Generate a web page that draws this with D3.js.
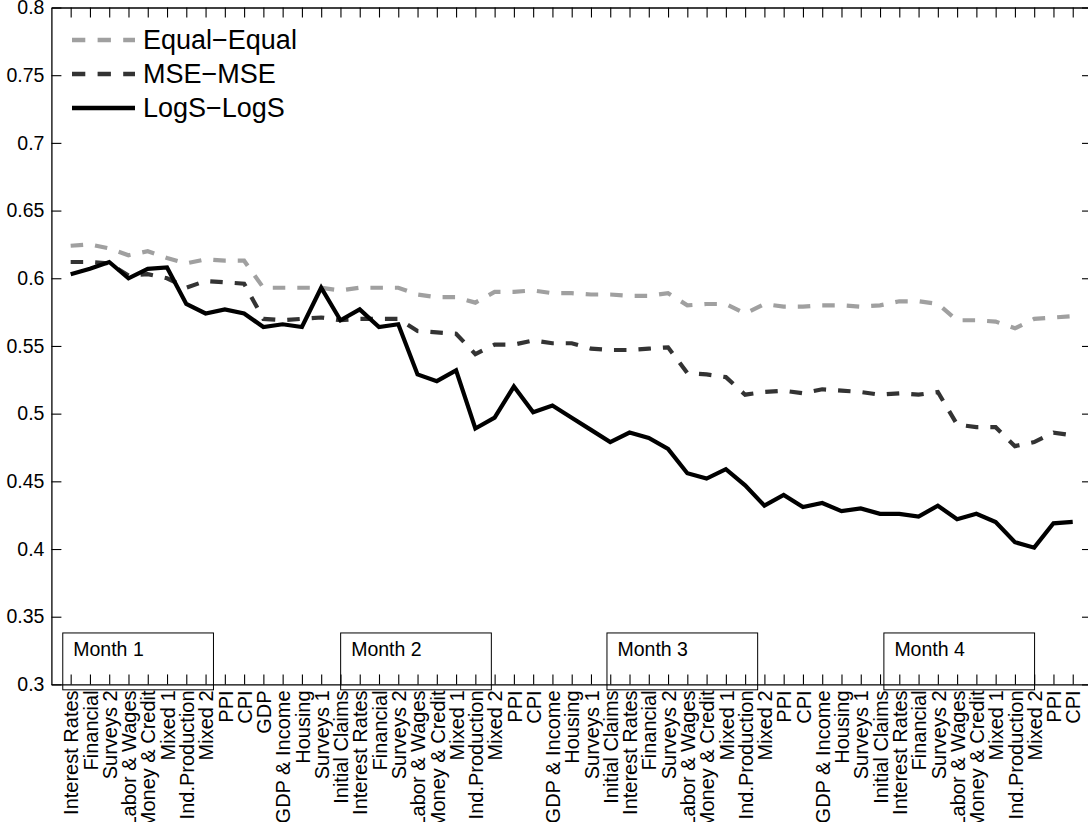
<!DOCTYPE html>
<html>
<head>
<meta charset="utf-8">
<script src="https://cdn.jsdelivr.net/npm/d3@7"></script>
<style>
  html, body { margin: 0; padding: 0; background: #fff; }
  svg { display: block; font-family: "Liberation Sans", Arial, Helvetica, sans-serif; }
</style>
</head>
<body>
<svg id="chart" width="1088" height="822"></svg>
<script>
// Forecast release sequence over four months
const categories = [
  "Interest Rates","Financial","Surveys 2","Labor & Wages","Money & Credit","Mixed 1","Ind.Production","Mixed 2",
  "PPI","CPI","GDP","GDP & Income","Housing","Surveys 1","Initial Claims",
  "Interest Rates","Financial","Surveys 2","Labor & Wages","Money & Credit","Mixed 1","Ind.Production","Mixed 2",
  "PPI","CPI","GDP & Income","Housing","Surveys 1","Initial Claims",
  "Interest Rates","Financial","Surveys 2","Labor & Wages","Money & Credit","Mixed 1","Ind.Production","Mixed 2",
  "PPI","CPI","GDP & Income","Housing","Surveys 1","Initial Claims",
  "Interest Rates","Financial","Surveys 2","Labor & Wages","Money & Credit","Mixed 1","Ind.Production","Mixed 2",
  "PPI","CPI"
];

const equalEqual = [
  0.624,0.625,0.622,0.617,0.620,0.615,0.611,0.614,0.613,0.613,
  0.593,0.593,0.593,0.593,0.591,0.593,0.593,0.593,0.588,0.586,
  0.586,0.582,0.590,0.590,0.591,0.589,0.589,0.588,0.588,0.587,
  0.587,0.589,0.580,0.581,0.581,0.574,0.581,0.579,0.579,0.580,
  0.580,0.579,0.580,0.583,0.583,0.581,0.569,0.569,0.568,0.563,
  0.570,0.571,0.572
];

const mseMse = [
  0.612,0.612,0.611,0.602,0.603,0.600,0.593,0.598,0.597,0.596,
  0.570,0.569,0.570,0.571,0.569,0.570,0.570,0.570,0.561,0.560,
  0.559,0.544,0.551,0.551,0.554,0.552,0.552,0.548,0.547,0.547,
  0.548,0.549,0.530,0.529,0.527,0.514,0.516,0.517,0.515,0.518,
  0.517,0.516,0.514,0.515,0.514,0.516,0.492,0.490,0.490,0.476,
  0.479,0.486,0.484
];

const logsLogs = [
  0.603,0.607,0.612,0.600,0.607,0.608,0.581,0.574,0.577,0.574,
  0.564,0.566,0.564,0.593,0.569,0.577,0.564,0.566,0.529,0.524,
  0.532,0.489,0.497,0.520,0.501,0.506,0.497,0.488,0.479,0.486,
  0.482,0.474,0.456,0.452,0.459,0.447,0.432,0.440,0.431,0.434,
  0.428,0.430,0.426,0.426,0.424,0.432,0.422,0.426,0.420,0.405,
  0.401,0.419,0.420
];

const yTicks = [0.3,0.35,0.4,0.45,0.5,0.55,0.6,0.65,0.7,0.75,0.8];
const yTickLabels = ["0.3","0.35","0.4","0.45","0.5","0.55","0.6","0.65","0.7","0.75","0.8"];

// Month panels along the bottom: start position (category units) and label
const monthNames = ["Month 1","Month 2","Month 3","Month 4"];
const monthStarts = [0.59, 15.01, 28.83, 43.2];
const monthSpan = 7.82;
const monthBand = [0.296, 0.338];

const seriesNames = ["Equal\u2212Equal","MSE\u2212MSE","LogS\u2212LogS"];

const svg = d3.select("#chart");
const W = 1088, H = 822;

const x = d3.scaleLinear().domain([0, 54]).range([51.4, 1092]);
const y = d3.scaleLinear().domain([0.3, 0.8]).range([684.4, 7.5]);
const idx = d3.range(1, categories.length + 1);

svg.append("rect").attr("width", W).attr("height", H).attr("fill", "#fff");

// Axes on all four sides, ticks pointing inward
const axisStyle = g => {
  g.selectAll(".domain").attr("stroke", "#000").attr("stroke-width", 1.3);
  g.selectAll(".tick line").attr("stroke", "#000").attr("stroke-width", 1.1);
};

const yLeft = svg.append("g").attr("transform", `translate(${x(0)},0)`)
  .call(d3.axisLeft(y).tickValues(yTicks).tickFormat((d, i) => yTickLabels[i])
    .tickSizeInner(-10).tickSizeOuter(0).tickPadding(7))
  .call(axisStyle);
yLeft.selectAll("text").attr("font-size", 19.5).attr("fill", "#000");

svg.append("g").attr("transform", `translate(${x(54)},0)`)
  .call(d3.axisRight(y).tickValues(yTicks).tickFormat("")
    .tickSizeInner(-10).tickSizeOuter(0))
  .call(axisStyle);

svg.append("g").attr("transform", `translate(0,${y(0.8)})`)
  .call(d3.axisTop(x).tickValues(idx).tickFormat("")
    .tickSizeInner(-10).tickSizeOuter(0))
  .call(axisStyle);

const xBottom = svg.append("g").attr("transform", `translate(0,${y(0.3)})`)
  .call(d3.axisBottom(x).tickValues(idx).tickFormat(d => categories[d - 1])
    .tickSizeInner(-10).tickSizeOuter(0))
  .call(axisStyle);
xBottom.selectAll("text")
  .attr("font-size", 20)
  .attr("fill", "#000")
  .attr("text-anchor", "end")
  .attr("transform", "rotate(-90)")
  .attr("x", -6)
  .attr("y", 0)
  .attr("dy", "0.36em");

// Month panels
const months = svg.append("g");
monthNames.forEach((name, i) => {
  const x0 = x(monthStarts[i]), x1 = x(monthStarts[i] + monthSpan);
  months.append("rect")
    .attr("x", x0).attr("y", y(monthBand[1]))
    .attr("width", x1 - x0).attr("height", y(monthBand[0]) - y(monthBand[1]))
    .attr("fill", "none").attr("stroke", "#000").attr("stroke-width", 1);
  months.append("text")
    .attr("x", x0 + 10.5).attr("y", y(monthBand[1]) + 23)
    .attr("font-size", 19.5).attr("fill", "#000")
    .text(name);
});

// Score lines
const line = d3.line().x((d, i) => x(i + 1)).y(d => y(d));
const styles = [
  { data: equalEqual, color: "#a0a0a0", dash: "12.5,12" },
  { data: mseMse, color: "#333333", dash: "12.5,12" },
  { data: logsLogs, color: "#000000", dash: null }
];
styles.forEach(s => {
  svg.append("path")
    .datum(s.data)
    .attr("d", line)
    .attr("fill", "none")
    .attr("stroke", s.color)
    .attr("stroke-width", 4.2)
    .attr("stroke-linejoin", "miter")
    .attr("stroke-dasharray", s.dash);
});

// Legend
const legend = svg.append("g");
const legendRows = [40, 74, 108];
styles.forEach((s, i) => {
  legend.append("line")
    .attr("x1", 72).attr("x2", 135)
    .attr("y1", legendRows[i]).attr("y2", legendRows[i])
    .attr("stroke", s.color).attr("stroke-width", 4.5)
    .attr("stroke-dasharray", s.dash ? "13.3,12.3" : null);
  legend.append("text")
    .attr("x", 143).attr("y", legendRows[i]).attr("dy", "0.35em")
    .attr("font-size", 27).attr("fill", "#000")
    .text(seriesNames[i]);
});
</script>
</body>
</html>
